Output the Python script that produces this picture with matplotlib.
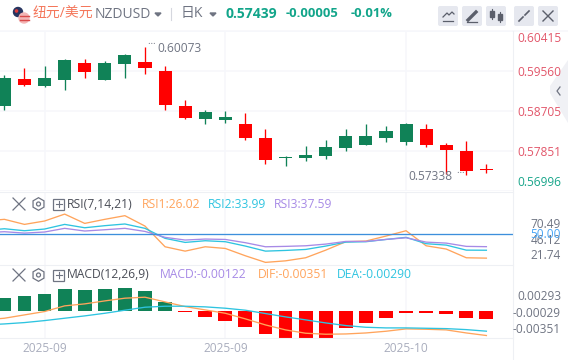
import matplotlib
matplotlib.use('Agg')
import matplotlib.pyplot as plt
from matplotlib.patches import Circle, FancyBboxPatch, Polygon, RegularPolygon, Rectangle

plt.rcParams['font.family'] = ['Open Sans', 'Noto Sans CJK SC', 'DejaVu Sans']

# candles: one row per day
opens = [0.58818, 0.59389, 0.59246, 0.59374, 0.59731, 0.59374, 0.59716, 0.59752, 0.59560, 0.58812,
         0.58534, 0.58513, 0.58427, 0.58128, 0.57700, 0.57700, 0.57743, 0.57914, 0.57978, 0.58128,
         0.58042, 0.58320, 0.57978, 0.57850, 0.57444]
closes = [0.59410, 0.59267, 0.59410, 0.59795, 0.59545, 0.59731, 0.59902, 0.59631, 0.58840, 0.58562,
          0.58684, 0.58577, 0.58134, 0.57658, 0.57722, 0.57764, 0.57936, 0.58171, 0.58171, 0.58278,
          0.58427, 0.57978, 0.57871, 0.57423, 0.57439]
highs = [0.59474, 0.59624, 0.59667, 0.59810, 0.59817, 0.59774, 0.59930, 0.60073, 0.59667, 0.58940,
         0.58726, 0.58705, 0.58662, 0.58320, 0.57743, 0.57957, 0.58085, 0.58320, 0.58434, 0.58384,
         0.58449, 0.58427, 0.58021, 0.58064, 0.57572]
lows = [0.58733, 0.59246, 0.59218, 0.59160, 0.59417, 0.59374, 0.59417, 0.59502, 0.58733, 0.58534,
        0.58434, 0.58455, 0.58085, 0.57572, 0.57529, 0.57636, 0.57679, 0.57850, 0.57978, 0.58042,
        0.57978, 0.57936, 0.57360, 0.57338, 0.57380]
price_ticks = [0.60415, 0.59560, 0.58705, 0.57851, 0.56996]

# indicator lines start one day before the first candle
line_days = list(range(-1, 25))
rsi1 = [63.5, 65.2, 60.1, 63.5, 70.49, 61.1, 65.2, 68.9, 58.4, 37.5, 33.1, 37.5, 35.8, 28.4, 21.74,
        23.3, 26.4, 34.1, 42.6, 43.3, 48.3, 53.7, 38.5, 35.2, 26.4, 26.02]
rsi2 = [54.0, 55.7, 53.7, 55.4, 60.1, 56.7, 58.8, 60.5, 56.1, 46.0, 41.9, 43.6, 42.6, 38.2, 33.1,
        33.8, 34.8, 38.2, 42.2, 42.6, 44.9, 47.0, 40.6, 39.2, 34.1, 33.99]
rsi3 = [51.7, 52.7, 51.3, 52.4, 56.1, 53.4, 54.7, 56.1, 53.0, 47.0, 44.3, 45.3, 44.9, 41.6, 37.5,
        37.9, 38.5, 40.2, 42.9, 42.9, 44.9, 46.6, 42.2, 41.2, 37.9, 37.59]

macd = [0.00183, 0.00211, 0.00239, 0.00310, 0.00296, 0.00310, 0.00324, 0.00282, 0.00127, -0.00014,
        -0.00085, -0.00141, -0.00225, -0.00333, -0.00390, -0.00400, -0.00390, -0.00239, -0.00169,
        -0.00099, -0.00028, -0.00028, -0.00042, -0.00099, -0.00122]
dif = [-0.00131, -0.00108, -0.00061, -0.00014, 0.00066, 0.00094, 0.00136, 0.00174, 0.00188, 0.00122,
       0.00056, 0.00009, -0.00038, -0.00117, -0.00202, -0.00272, -0.00319, -0.00333, -0.00329,
       -0.00315, -0.00291, -0.00258, -0.00263, -0.00272, -0.00315, -0.00351]
dea = [-0.00202, -0.00188, -0.00169, -0.00141, -0.00108, -0.00075, -0.00038, 0.00005, 0.00047,
       0.00061, 0.00061, 0.00052, 0.00033, 0.00005, -0.00042, -0.00089, -0.00131, -0.00174, -0.00211,
       -0.00235, -0.00244, -0.00244, -0.00249, -0.00254, -0.00268, -0.00290]
date_days = [2, 11, 20]
date_labels = ['2025-09', '2025-09', '2025-10']

GREEN = '#108257'
RED = '#ff0000'
ORANGE = '#ffa45c'
CYAN = '#2ec4e0'
PURPLE = '#a78ae6'
GRID = '#f6f7fb'
GRAY = '#6f7482'
W, H = 568, 360
XLIM = (-0.219, 25.31)
days = list(range(len(opens)))


def panel(top, bottom, right=512.7):
    ax = fig.add_axes([0, 1 - bottom / H, right / W, (bottom - top) / H])
    ax.set_xlim(*XLIM)
    ax.set_xticks(date_days)
    ax.set_xticklabels([])
    ax.tick_params(length=0, labelleft=False)
    ax.grid(True, color=GRID, linewidth=1.1)
    ax.set_axisbelow(True)
    for side in ax.spines.values():
        side.set_visible(False)
    return ax


fig = plt.figure(figsize=(W / 100, H / 100), dpi=100)

# price panel
ax1 = panel(31, 191)
ax1.set_ylim(price_ticks[-1], price_ticks[0])
ax1.set_yticks(price_ticks)
colors = [GREEN if c >= o else RED for o, c in zip(opens, closes)]
ax1.vlines(days, lows, highs, colors=colors, linewidth=0.95)
ax1.bar(days, [max(abs(c - o), 0.00018) for o, c in zip(opens, closes)],
        bottom=[min(o, c) for o, c in zip(opens, closes)], width=0.65, color=colors)

# RSI panel
ax2 = panel(192, 264.5)
ax2.set_ylim(19.6, 92.8)
ax2.set_yticks([])
ax2.plot(line_days, rsi1, color=ORANGE, linewidth=0.95)
ax2.plot(line_days, rsi2, color=CYAN, linewidth=0.95)
ax2.plot(line_days, rsi3, color=PURPLE, linewidth=0.95)
ax2.axhline(50, color='#3d8fdc', linewidth=0.95, zorder=3)

# MACD panel
ax3 = panel(264.5, 338)
ax3.set_ylim(-0.00386, 0.00648)
ax3.set_yticks([])
ax3.bar(days, macd, width=0.69, color=[GREEN if m > 0 else RED for m in macd])
ax3.plot(line_days, dif, color=ORANGE, linewidth=0.95)
ax3.plot(line_days, dea, color=CYAN, linewidth=0.95)
ax3.set_xticklabels(date_labels, color='#a9adbd', fontsize=8.6)
ax3.tick_params(axis='x', labelbottom=True, pad=3)

# overlay in pixel coordinates for header, icons and value labels
top = fig.add_axes([0, 0, 1, 1], zorder=10)
top.set_xlim(0, W)
top.set_ylim(H, 0)
top.axis('off')
top.patch.set_alpha(0)

top.plot([0, W], [31, 31], color=GRID, linewidth=1.1)
top.plot([0, 512.7], [192, 192], color='#eef0f4', linewidth=0.8)
top.plot([0, 512.7], [264.5, 264.5], color='#eef0f4', linewidth=0.8)
top.plot([0, 512.7], [338, 338], color='#eef0f4', linewidth=0.8)
top.plot([512.7, 512.7], [31, H], color='#eef0f4', linewidth=0.8)
top.plot([171, 171], [8, 20], color='#d5d7de', linewidth=0.8)

# flag
top.add_patch(Circle((18, 12), 4.5, color='#27345f'))
top.add_patch(Circle((24, 18), 5, color='#f3b6b6'))
top.plot([19.5, 28.5], [16, 16], color='#d84a4a', linewidth=1)
top.plot([19.5, 28.5], [20, 20], color='#d84a4a', linewidth=1)
top.add_patch(Circle((16.5, 11), 1.1, color='#e03c3c'))

top.text(33, 14, '纽元/美元', color='#f4775b', fontsize=10, va='center')
top.text(95, 14.5, 'NZDUSD', color=GRAY, fontsize=10, va='center')
top.add_patch(Polygon([[155, 13], [161, 13], [158, 16]], color=GRAY))
top.text(181, 13, '日K', color=GRAY, fontsize=10, va='center')
top.add_patch(Polygon([[210, 13], [216, 13], [213, 16]], color=GRAY))
top.text(226, 13.5, '0.57439', color='#12a58a', fontsize=10, fontweight='bold', va='center')
top.text(286, 13.5, '-0.00005', color='#12a58a', fontsize=9.4, fontweight='bold', va='center')
top.text(351, 13.5, '-0.01%', color='#12a58a', fontsize=9.4, fontweight='bold', va='center')

# toolbar buttons
for bx in [438, 462, 486, 514, 538]:
    top.add_patch(FancyBboxPatch((bx + 2, 8), 16, 16, boxstyle='round,pad=2', facecolor='#e6e8ef',
                                 edgecolor='none'))
icon = '#5b5f6b'
top.plot([443, 447, 449, 452, 454], [17, 13, 15, 12, 14], color=icon, linewidth=0.9)
top.plot([443, 453], [21, 21], color=icon, linewidth=0.9)
top.plot([468, 476], [20, 12], color=icon, linewidth=2.4)
top.plot([467, 477], [21.5, 21.5], color=icon, linewidth=0.9)
for cx, y0, y1 in [(492, 10, 18), (500, 13, 21)]:
    top.plot([cx, cx], [y0 - 1, y1 + 1], color=icon, linewidth=0.8)
    top.add_patch(Rectangle((cx - 2, y0 + 1), 4, y1 - y0 - 2, color=icon))
top.plot([519, 523], [21, 17], color=icon, linewidth=1.2)
top.plot([525, 529], [15, 11], color=icon, linewidth=1.2)
top.plot([543, 553], [11, 21], color=icon, linewidth=1)
top.plot([543, 553], [21, 11], color=icon, linewidth=1)

# side tab
top.add_patch(Polygon([[550, 86], [568, 60], [568, 123], [550, 93]], color='#f0f1f5', linewidth=0))
top.plot([560, 557, 560], [87, 91, 95], color=GRAY, linewidth=0.9)

# axis value labels
price_y = [38, 72, 112, 153, 182]
price_colors = ['#e2566a', '#e2566a', '#e2566a', '#e2566a', '#18a58a']
for label, y, c in zip(price_ticks, price_y, price_colors):
    top.text(561, y, f'{label:.5f}', color=c, fontsize=8.6, ha='right', va='center')
for label, y, c in [('70.49', 225, GRAY), ('46.12', 241, GRAY), ('21.74', 255.7, GRAY),
                    ('50.00', 234, '#49a5f5')]:
    top.text(561, y, label, color=c, fontsize=8.6, ha='right', va='center')
for label, y in [('0.00293', 297), ('-0.00029', 313.7), ('-0.00351', 329.7)]:
    top.text(561, y, label, color=GRAY, fontsize=8.6, ha='right', va='center')

# high / low callouts
top.text(147, 47, '\u2026', color=GRAY, fontsize=7, va='bottom')
top.text(157, 48, '0.60073', color=GRAY, fontsize=8.6, va='center')
top.text(408, 177, '0.57338', color=GRAY, fontsize=8.6, va='center')
top.text(456, 176, '\u2026', color=GRAY, fontsize=7, va='bottom')


def indicator_head(y, title, items):
    top.plot([13, 25], [y - 6, y + 6], color=GRAY, linewidth=0.9)
    top.plot([13, 25], [y + 6, y - 6], color=GRAY, linewidth=0.9)
    top.add_patch(RegularPolygon((38.5, y), 6, radius=6.3, fill=False, edgecolor=GRAY, linewidth=0.9))
    top.add_patch(Circle((38.5, y), 2, fill=False, edgecolor=GRAY, linewidth=0.9))
    top.add_patch(Rectangle((53, y - 5.5), 11, 11, fill=False, edgecolor=GRAY, linewidth=0.9))
    top.plot([55.5, 61.5], [y, y], color=GRAY, linewidth=0.8)
    top.plot([58.5, 58.5], [y - 3, y + 3], color=GRAY, linewidth=0.8)
    top.text(67, y, title, color='#4a4d57', fontsize=8.7, va='center')
    for x, text, c in items:
        top.text(x, y, text, color=c, fontsize=8.7, va='center')


indicator_head(204, 'RSI(7,14,21)', [(142, 'RSI1:26.02', ORANGE), (208, 'RSI2:33.99', CYAN),
                                     (274, 'RSI3:37.59', PURPLE)])
indicator_head(275, 'MACD(12,26,9)', [(160, 'MACD:-0.00122', PURPLE), (258, 'DIF:-0.00351', ORANGE),
                                      (337, 'DEA:-0.00290', CYAN)])

plt.savefig('out.png', dpi=100)
